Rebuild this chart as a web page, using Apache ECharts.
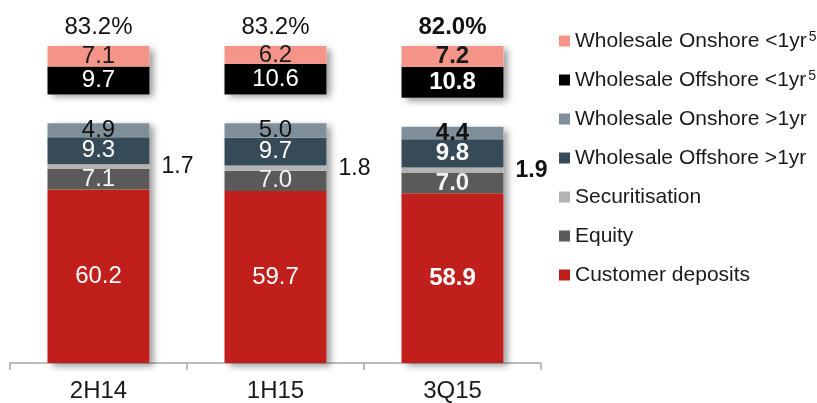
<!DOCTYPE html>
<html>
<head>
<meta charset="utf-8">
<script src="https://cdn.jsdelivr.net/npm/echarts@6/dist/echarts.min.js"></script>
<style>
  html, body { margin: 0; padding: 0; background: #ffffff; }
  #chart { width: 817px; height: 403px; }
</style>
</head>
<body>
<div id="chart"></div>
<script>
// ---- data ----
const categories = ['2H14', '1H15', '3Q15'];
const customerDeposits = [60.2, 59.7, 58.9];
const equity = [7.1, 7.0, 7.0];
const securitisation = [1.7, 1.8, 1.9];
const wholesaleOffshoreLong = [9.3, 9.7, 9.8];
const wholesaleOnshoreLong = [4.9, 5.0, 4.4];
const wholesaleOffshoreShort = [9.7, 10.6, 10.8];
const wholesaleOnshoreShort = [7.1, 6.2, 7.2];
const stableFunding = [83.2, 83.2, 82.0];
const boldCategory = [false, false, true];

// ---- layout helpers ----
const GAP = 10; // visual spacer between the two stacks
const FONT = '"Liberation Sans", Arial, Helvetica, sans-serif';

const lowerTotals = categories.map((c, i) => +(customerDeposits[i] + equity[i] + securitisation[i] + wholesaleOffshoreLong[i] + wholesaleOnshoreLong[i]).toFixed(1));
const upperTotals = categories.map((c, i) => +(wholesaleOffshoreShort[i] + wholesaleOnshoreShort[i]).toFixed(1));
const gapData = categories.map(() => GAP);

function items(arr) {
  return arr.map((v, i) => ({
    value: v,
    label: { fontWeight: boldCategory[i] ? 'bold' : 'normal' }
  }));
}

function mainSeries(name, data, color, labelColor, pos) {
  return {
    name: name,
    type: 'bar',
    stack: 'main',
    barWidth: 102,
    barGap: '-100%',
    z: 3,
    data: items(data),
    itemStyle: { color: color },
    label: {
      show: true,
      position: pos || 'inside',
      distance: 12,
      color: labelColor,
      fontFamily: FONT,
      fontSize: pos ? 23 : 24,
      formatter: p => p.value.toFixed(1)
    }
  };
}

const shadowStyle = {
  color: '#ffffff',
  shadowColor: 'rgba(0,0,0,0.4)',
  shadowBlur: 7,
  shadowOffsetX: 4,
  shadowOffsetY: 3
};

const series = [
  {
    type: 'bar', stack: 'bg', barWidth: 102, barGap: '-100%', z: 1, silent: true,
    data: lowerTotals, itemStyle: shadowStyle
  },
  {
    type: 'bar', stack: 'bg', barWidth: 102, barGap: '-100%', z: 1, silent: true,
    data: gapData, itemStyle: { color: 'rgba(0,0,0,0)' }
  },
  {
    type: 'bar', stack: 'bg', barWidth: 102, barGap: '-100%', z: 1, silent: true,
    data: upperTotals.map((v, i) => ({ value: v, label: { fontWeight: boldCategory[i] ? 'bold' : 'normal' } })),
    itemStyle: shadowStyle,
    label: {
      show: true, position: 'top', distance: 7, color: '#111',
      fontFamily: FONT, fontSize: 24,
      formatter: p => stableFunding[p.dataIndex].toFixed(1) + '%'
    }
  },
  mainSeries('Customer deposits', customerDeposits, '#C11F1C', '#ffffff'),
  mainSeries('Equity', equity, '#5A5A5A', '#f2f2f2'),
  mainSeries('Securitisation', securitisation, '#B3B3B3', '#111111', 'right'),
  mainSeries('Wholesale Offshore >1yr', wholesaleOffshoreLong, '#374A57', '#ffffff'),
  mainSeries('Wholesale Onshore >1yr', wholesaleOnshoreLong, '#7F8F99', '#111111'),
  {
    type: 'bar', stack: 'main', barWidth: 102, barGap: '-100%', z: 3, silent: true,
    data: gapData, itemStyle: { color: 'rgba(0,0,0,0)' }
  },
  mainSeries('Wholesale Offshore <1yr', wholesaleOffshoreShort, '#000000', '#ffffff'),
  mainSeries('Wholesale Onshore <1yr', wholesaleOnshoreShort, '#F5958A', '#1a1a1a')
];

const legendOrder = [
  'Wholesale Onshore <1yr',
  'Wholesale Offshore <1yr',
  'Wholesale Onshore >1yr',
  'Wholesale Offshore >1yr',
  'Securitisation',
  'Equity',
  'Customer deposits'
];

const chart = echarts.init(document.getElementById('chart'), null, { renderer: 'canvas' });
chart.setOption({
  animation: false,
  backgroundColor: '#ffffff',
  textStyle: { fontFamily: FONT },
  grid: { left: 10, right: 276, top: 46, bottom: 37, containLabel: false },
  legend: {
    data: legendOrder,
    orient: 'vertical',
    left: 554,
    top: 25,
    icon: 'rect',
    itemWidth: 11,
    itemHeight: 11,
    itemGap: 17,
    selectedMode: false,
    textStyle: {
      fontFamily: FONT, fontSize: 21, color: '#1a1a1a', lineHeight: 22,
      rich: {
        sup: { fontFamily: FONT, fontSize: 14, color: '#1a1a1a', verticalAlign: 'top', lineHeight: 22, padding: [0, 0, 0, 2] }
      }
    },
    formatter: name => name.endsWith('<1yr') ? name + '{sup|5}' : name
  },
  xAxis: {
    type: 'category',
    data: categories,
    axisLine: { show: true, lineStyle: { color: '#A6A6A6', width: 1.5 } },
    axisTick: { show: true, length: 7, lineStyle: { color: '#A6A6A6', width: 1.5 } },
    axisLabel: { fontFamily: FONT, fontSize: 24, color: '#1a1a1a', margin: 16 }
  },
  yAxis: {
    type: 'value', show: false, min: 0, max: 100 + GAP,
    splitLine: { show: false }
  },
  series: series
});
</script>
</body>
</html>
